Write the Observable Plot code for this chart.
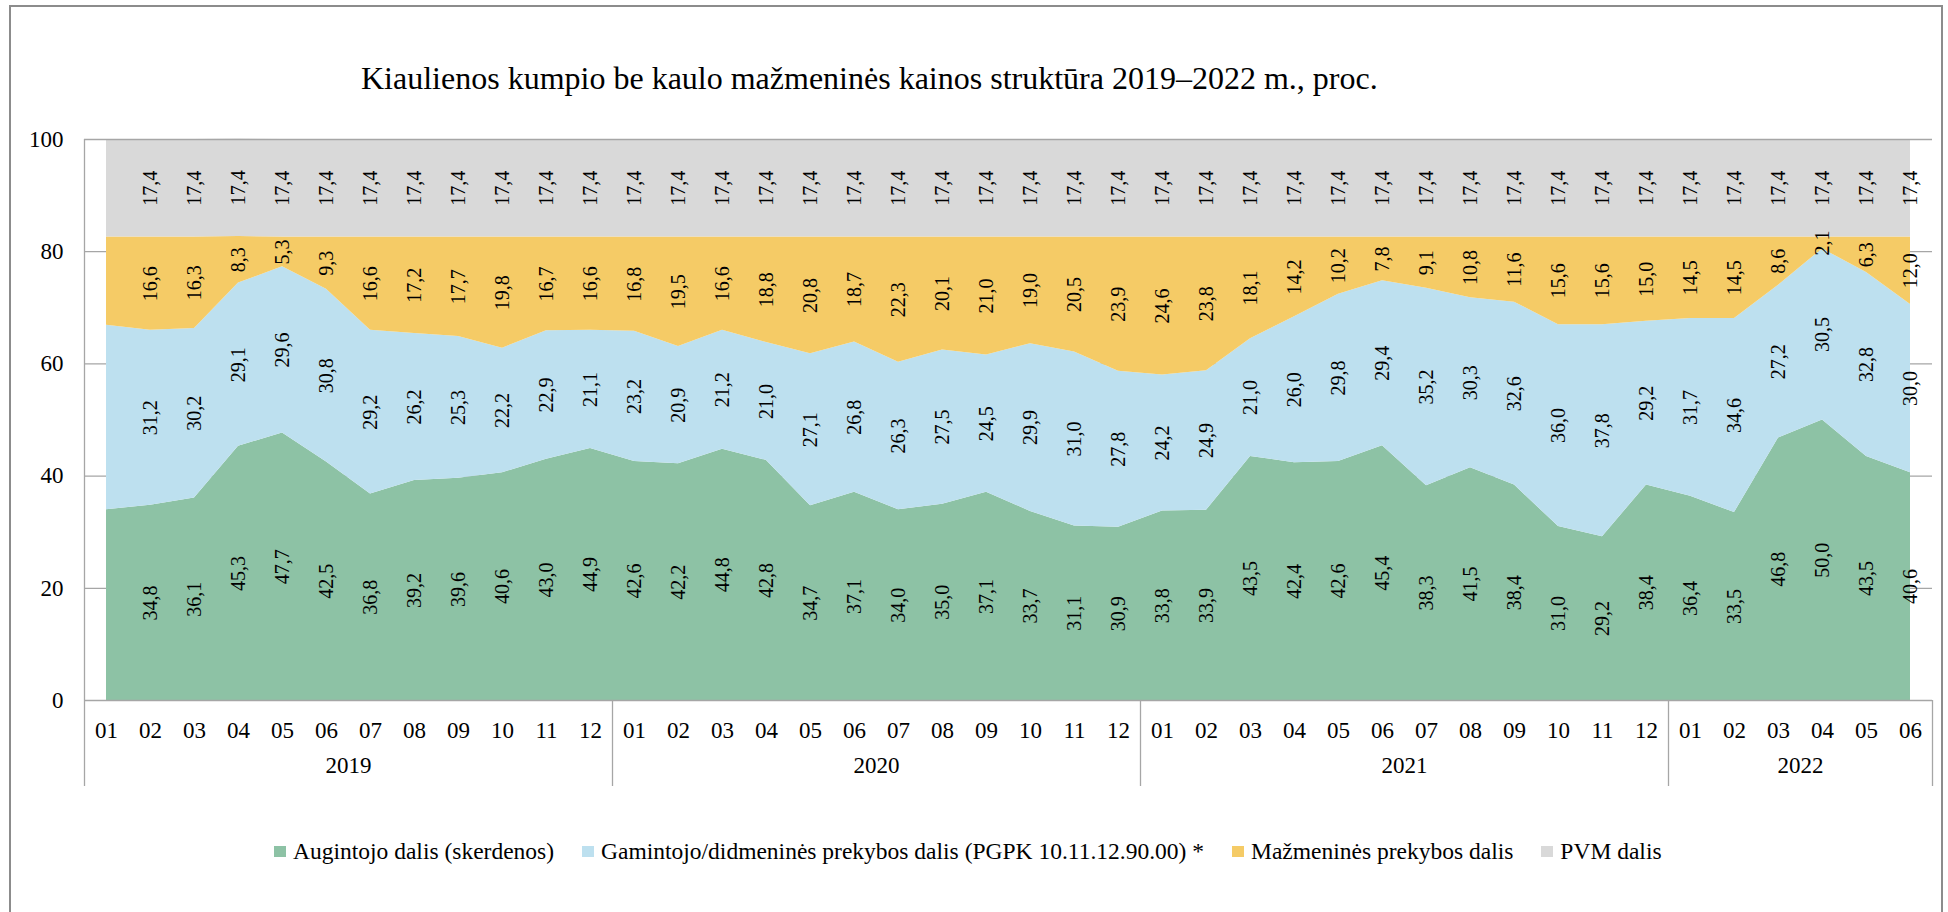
<!DOCTYPE html>
<html>
<head>
<meta charset="utf-8">
<script src="https://cdn.jsdelivr.net/npm/d3@7"></script>
<script src="https://cdn.jsdelivr.net/npm/@observablehq/plot@0.6"></script>
<style>
  html, body { margin: 0; padding: 0; background: #fff; overflow: hidden; }
  #wrap { position: relative; width: 1948px; height: 912px; font-family: "Liberation Serif", "Times New Roman", serif; color: #000; }
  #frame { position: absolute; left: 9px; top: 5px; width: 1934px; height: 1000px; border: 2px solid #8c8c8c; box-sizing: border-box; }
  #title { position: absolute; left: 361px; top: 62px; font-size: 32px; line-height: 32px; white-space: nowrap; }
  #chart { position: absolute; left: 0; top: 100px; }
  #legend { position: absolute; left: 274px; top: 839px; font-size: 23.5px; line-height: 24px; white-space: nowrap; }
  #legend .item { margin-right: 28px; }
  #legend .sw { display: inline-block; width: 12px; height: 11px; margin-right: 7px; position: relative; top: -2px; }
</style>
</head>
<body>
<div id="wrap">
  <div id="frame"></div>
  <div id="title"></div>
  <div id="chart"></div>
  <div id="legend"></div>
</div>
<script>
const titleText = "Kiaulienos kumpio be kaulo mažmeninės kainos struktūra 2019–2022 m., proc.";

const months = [
  "01","02","03","04","05","06","07","08","09","10","11","12",
  "01","02","03","04","05","06","07","08","09","10","11","12",
  "01","02","03","04","05","06","07","08","09","10","11","12",
  "01","02","03","04","05","06"
];
const years = [
  "2019","2019","2019","2019","2019","2019","2019","2019","2019","2019","2019","2019",
  "2020","2020","2020","2020","2020","2020","2020","2020","2020","2020","2020","2020",
  "2021","2021","2021","2021","2021","2021","2021","2021","2021","2021","2021","2021",
  "2022","2022","2022","2022","2022","2022"
];

const seriesNames = [
  "Augintojo dalis (skerdenos)",
  "Gamintojo/didmeninės prekybos dalis (PGPK 10.11.12.90.00) *",
  "Mažmeninės prekybos dalis",
  "PVM dalis"
];
const seriesColors = ["#8dc2a5", "#bde0ef", "#f5cb66", "#d9d9d9"];

const augintojo = [
  34.0, 34.8, 36.1, 45.3, 47.7, 42.5, 36.8, 39.2, 39.6, 40.6, 43.0, 44.9,
  42.6, 42.2, 44.8, 42.8, 34.7, 37.1, 34.0, 35.0, 37.1, 33.7, 31.1, 30.9,
  33.8, 33.9, 43.5, 42.4, 42.6, 45.4, 38.3, 41.5, 38.4, 31.0, 29.2, 38.4,
  36.4, 33.5, 46.8, 50.0, 43.5, 40.6
];
const gamintojo = [
  32.9, 31.2, 30.2, 29.1, 29.6, 30.8, 29.2, 26.2, 25.3, 22.2, 22.9, 21.1,
  23.2, 20.9, 21.2, 21.0, 27.1, 26.8, 26.3, 27.5, 24.5, 29.9, 31.0, 27.8,
  24.2, 24.9, 21.0, 26.0, 29.8, 29.4, 35.2, 30.3, 32.6, 36.0, 37.8, 29.2,
  31.7, 34.6, 27.2, 30.5, 32.8, 30.0
];
const mazmenines = [
  15.7, 16.6, 16.3, 8.3, 5.3, 9.3, 16.6, 17.2, 17.7, 19.8, 16.7, 16.6,
  16.8, 19.5, 16.6, 18.8, 20.8, 18.7, 22.3, 20.1, 21.0, 19.0, 20.5, 23.9,
  24.6, 23.8, 18.1, 14.2, 10.2, 7.8, 9.1, 10.8, 11.6, 15.6, 15.6, 15.0,
  14.5, 14.5, 8.6, 2.1, 6.3, 12.0
];
const pvm = [
  17.4, 17.4, 17.4, 17.4, 17.4, 17.4, 17.4, 17.4, 17.4, 17.4, 17.4, 17.4,
  17.4, 17.4, 17.4, 17.4, 17.4, 17.4, 17.4, 17.4, 17.4, 17.4, 17.4, 17.4,
  17.4, 17.4, 17.4, 17.4, 17.4, 17.4, 17.4, 17.4, 17.4, 17.4, 17.4, 17.4,
  17.4, 17.4, 17.4, 17.4, 17.4, 17.4
];
const yTicks = [0, 20, 40, 60, 80, 100];

// ---- build tables ----
const seriesValues = [augintojo, gamintojo, mazmenines, pvm];
const rows = [];
seriesNames.forEach((name, s) => {
  seriesValues[s].forEach((v, i) => rows.push({i, series: name, value: v}));
});
// the first period carries no value labels in the original
const labelRows = rows.filter(d => d.i > 0);

const yearList = Array.from(new Set(years));
const yearMarks = yearList.map(y => {
  const idx = years.map((v, i) => v === y ? i : -1).filter(i => i >= 0);
  return {year: y, mid: (idx[0] + idx[idx.length - 1]) / 2};
});
const bounds = [-0.5];
years.forEach((y, i) => { if (i > 0 && y !== years[i - 1]) bounds.push(i - 0.5); });
bounds.push(years.length - 0.5);

const fmt = v => v.toFixed(1).replace(".", ",");
const lineColor = "#a6a6a6";

const plot = Plot.plot({
  width: 1948,
  height: 700,
  marginLeft: 84,
  marginRight: 16,
  marginTop: 39,
  marginBottom: 100,
  style: {
    fontFamily: "'Liberation Serif', 'Times New Roman', serif",
    fontSize: "23px",
    color: "#000",
    background: "transparent",
    overflow: "visible"
  },
  x: {
    type: "linear",
    domain: [-0.5, months.length - 0.5],
    ticks: d3.range(months.length),
    tickFormat: i => months[i],
    tickSize: 0,
    tickPadding: 21,
    label: null
  },
  y: {
    domain: [0, 100],
    ticks: yTicks,
    tickFormat: d => String(d),
    tickSize: 0,
    tickPadding: 21,
    label: null
  },
  color: {domain: seriesNames, range: seriesColors},
  marks: [
    Plot.ruleY(yTicks.filter(t => t > 0 && t < 100), {stroke: lineColor, strokeWidth: 1.3}),
    Plot.areaY(rows, {x: "i", y: "value", z: "series", fill: "series", order: seriesNames}),
    Plot.ruleY([0, 100], {stroke: lineColor, strokeWidth: 1.3}),
    Plot.ruleX([bounds[0]], {y1: 0, y2: 100, stroke: lineColor, strokeWidth: 1.3}),
    Plot.ruleX(bounds, {x: d => d, y1: 0, y2: 0, insetBottom: -86, stroke: lineColor, strokeWidth: 1.3}),
    Plot.text(labelRows, Plot.stackY({
      x: "i", y: "value", z: "series", order: seriesNames,
      text: d => fmt(d.value), rotate: -90, fontSize: 20, fill: "#000"
    })),
    Plot.text(yearMarks, {x: "mid", text: "year", frameAnchor: "bottom", dy: 72, fontSize: 23, fill: "#000"})
  ]
});
document.getElementById("chart").appendChild(plot);
document.getElementById("title").textContent = titleText;

const legend = document.getElementById("legend");
seriesNames.forEach((name, s) => {
  const item = document.createElement("span");
  item.className = "item";
  const sw = document.createElement("span");
  sw.className = "sw";
  sw.style.background = seriesColors[s];
  item.appendChild(sw);
  item.appendChild(document.createTextNode(name));
  legend.appendChild(item);
});
</script>
</body>
</html>
